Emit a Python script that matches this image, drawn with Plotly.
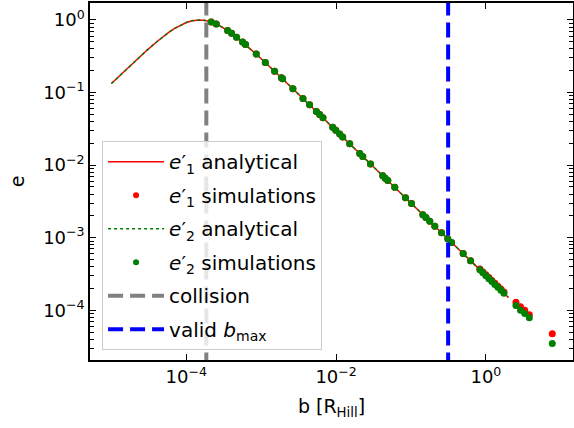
import plotly.graph_objects as go

# ---- data ----
b_analytical = [1e-5, 1.5e-5, 2e-5, 3e-5, 4e-5, 5e-5, 6e-5, 7e-5, 8e-5, 1e-4, 1.2e-4,
                1.5e-4, 1.8e-4, 2.2e-4, 2.7e-4, 3.5e-4, 5e-4, 7e-4, 1e-3, 2e-3, 5e-3,
                1e-2, 3e-2, 1e-1, 3e-1, 1.0, 2.0]
e1_analytical = [0.133, 0.198, 0.262, 0.385, 0.498, 0.600, 0.690, 0.766, 0.830, 0.923, 0.976,
                 1.0, 0.984, 0.931, 0.849, 0.724, 0.550, 0.410, 0.293, 0.149, 0.0600,
                 0.0300, 0.0100, 0.0030, 0.0010, 0.00030, 0.00015]
e2_analytical = list(e1_analytical)

b_sim = [2.15e-4, 2.51e-4, 3.56e-4, 4.02e-4, 4.69e-4, 5.64e-4, 6.18e-4, 8.59e-4, 1.135e-3,
         1.51e-3, 1.86e-3, 1.93e-3, 2.65e-3, 3.61e-3, 4.43e-3, 5.46e-3, 6.04e-3, 6.68e-3,
         9.01e-3, 9.89e-3, 1.117e-2, 1.225e-2, 1.52e-2, 2.07e-2, 2.27e-2, 2.88e-2, 4.20e-2,
         4.53e-2, 4.90e-2, 6.07e-2, 8.44e-2, 0.1016, 0.1439, 0.158, 0.178, 0.208, 0.256,
         0.310, 0.348, 0.497, 0.624, 0.831, 0.912, 1.0, 1.097, 1.203, 1.319, 1.446, 1.588,
         1.741, 2.52, 2.9, 3.3, 3.8, 7.7]
e2_sim = [0.938, 0.880, 0.716, 0.655, 0.580, 0.497, 0.459, 0.339, 0.260,
          0.197, 0.160, 0.155, 0.113, 0.0831, 0.0677, 0.0549, 0.0497, 0.0449,
          0.0333, 0.0303, 0.0269, 0.0245, 0.0197, 0.0145, 0.0132, 0.0104, 0.00714,
          0.00662, 0.00612, 0.00494, 0.00355, 0.00295, 0.00208, 0.00190, 0.00168, 0.00144, 0.00117,
          0.000968, 0.000862, 0.000604, 0.000481, 0.000361, 0.000329, 0.000300, 0.000273, 0.000249,
          0.000227, 0.000207, 0.000189, 0.000172, 1.16e-4, 1.0e-4, 9.0e-5, 7.9e-5, 3.5e-5]
e1_sim = [0.938, 0.880, 0.716, 0.655, 0.580, 0.497, 0.459, 0.339, 0.260,
          0.197, 0.160, 0.155, 0.113, 0.0831, 0.0677, 0.0549, 0.0497, 0.0449,
          0.0333, 0.0303, 0.0269, 0.0245, 0.0197, 0.0145, 0.0132, 0.0104, 0.00714,
          0.00662, 0.00612, 0.00494, 0.00355, 0.00295, 0.00208, 0.00190, 0.00168, 0.00144, 0.00117,
          0.000968, 0.000862, 0.000604, 0.000481, 0.000370, 0.000338, 0.000309, 0.000282, 0.000258,
          0.000235, 0.000215, 0.000196, 0.000179, 1.29e-4, 1.12e-4, 1.0e-4, 8.7e-5, 4.75e-5]

b_collision = 1.85e-4
b_valid_max = 0.313
vline_y = [1e-6, 10.0]

x_tickvals = [1e-4, 1e-2, 1.0]
x_ticktext = ["10<sup>−4</sup>", "10<sup>−2</sup>", "10<sup>0</sup>"]
y_tickvals = [1e-4, 1e-3, 1e-2, 1e-1, 1.0]
y_ticktext = ["10<sup>−4</sup>", "10<sup>−3</sup>", "10<sup>−2</sup>", "10<sup>−1</sup>", "10<sup>0</sup>"]
y_minor = [m * 10.0 ** k for k in range(-5, 1) for m in range(2, 10)]

legend_names = ["<i>e</i>′<sub>1</sub> analytical", "<i>e</i>′<sub>1</sub> simulations",
                "<i>e</i>′<sub>2</sub> analytical", "<i>e</i>′<sub>2</sub> simulations",
                "collision", "valid <i>b</i><sub>max</sub>"]

FONT = "DejaVu Sans"
DASH = "15px,7px"

fig = go.Figure()
# plotted marks (legend handled by small proxy entries below)
fig.add_trace(go.Scatter(x=b_analytical, y=e1_analytical, mode="lines",
                         line=dict(color="red", width=1.5), showlegend=False))
fig.add_trace(go.Scatter(x=b_sim, y=e1_sim, mode="markers",
                         marker=dict(color="red", size=7), showlegend=False))
fig.add_trace(go.Scatter(x=b_analytical, y=e2_analytical, mode="lines",
                         line=dict(color="green", width=1.5, dash="dot"), showlegend=False))
fig.add_trace(go.Scatter(x=b_sim, y=e2_sim, mode="markers",
                         marker=dict(color="green", size=7), showlegend=False))
fig.add_trace(go.Scatter(x=[b_collision, b_collision], y=vline_y, mode="lines",
                         line=dict(color="gray", width=4, dash=DASH), showlegend=False))
fig.add_trace(go.Scatter(x=[b_valid_max, b_valid_max], y=vline_y, mode="lines",
                         line=dict(color="blue", width=4, dash=DASH), showlegend=False))

# legend proxies
proxies = [
    dict(mode="lines", line=dict(color="red", width=1.5)),
    dict(mode="markers", marker=dict(color="red", size=6)),
    dict(mode="lines", line=dict(color="green", width=1.5, dash="dot")),
    dict(mode="markers", marker=dict(color="green", size=6)),
    dict(mode="lines", line=dict(color="gray", width=4, dash=DASH)),
    dict(mode="lines", line=dict(color="blue", width=4, dash=DASH)),
]
for i, (nm, p) in enumerate(zip(legend_names, proxies)):
    fig.add_trace(go.Scatter(x=[None], y=[None], name=nm, legendgroup=str(i), **p))

# invisible trace for the mirrored tick axes
fig.add_trace(go.Scatter(x=[None], y=[None], xaxis="x2", yaxis="y2", showlegend=False,
                         hoverinfo="skip"))

XR = [-5.286, 1.163]
YR = [-4.685, 0.234]
tickfont = dict(family=FONT, size=18, color="black")
axis_common = dict(type="log", showgrid=False, zeroline=False, showline=True,
                   linecolor="black", linewidth=1.5, ticks="inside", tickcolor="black",
                   tickwidth=1, ticklen=6.5, tickfont=tickfont, automargin=False)
yminor = dict(tickvals=y_minor, ticks="inside", ticklen=4, tickcolor="black", tickwidth=1)

fig.update_layout(
    width=574, height=428,
    margin=dict(l=90, r=1, t=3, b=68),
    plot_bgcolor="white", paper_bgcolor="white",
    font=dict(family=FONT, size=18, color="black"),
    xaxis=dict(**axis_common, range=XR, tickvals=x_tickvals, ticktext=x_ticktext, mirror=True,
               title=dict(text="b [R<sub>Hill</sub>]", font=dict(family=FONT, size=19), standoff=13)),
    yaxis=dict(**axis_common, range=YR, tickvals=y_tickvals, ticktext=y_ticktext, mirror=True,
               minor=yminor,
               title=dict(text="e", font=dict(family=FONT, size=19), standoff=14)),
    xaxis2=dict(**axis_common, range=XR, tickvals=x_tickvals, showticklabels=False,
                overlaying="x", side="top", anchor="y2"),
    yaxis2=dict(**axis_common, range=YR, tickvals=y_tickvals, showticklabels=False,
                overlaying="y", side="right", anchor="x2", minor=yminor),
    legend=dict(x=0.025, y=0.613, xanchor="left", yanchor="top",
                bgcolor="rgba(255,255,255,0.8)", bordercolor="#cccccc", borderwidth=1,
                font=dict(family=FONT, size=20, color="black"),
                tracegroupgap=4.5, itemwidth=56),
    showlegend=True,
)

fig.write_html("out.html", config={"displayModeBar": False},
               post_script="document.body.style.margin='0px';")
